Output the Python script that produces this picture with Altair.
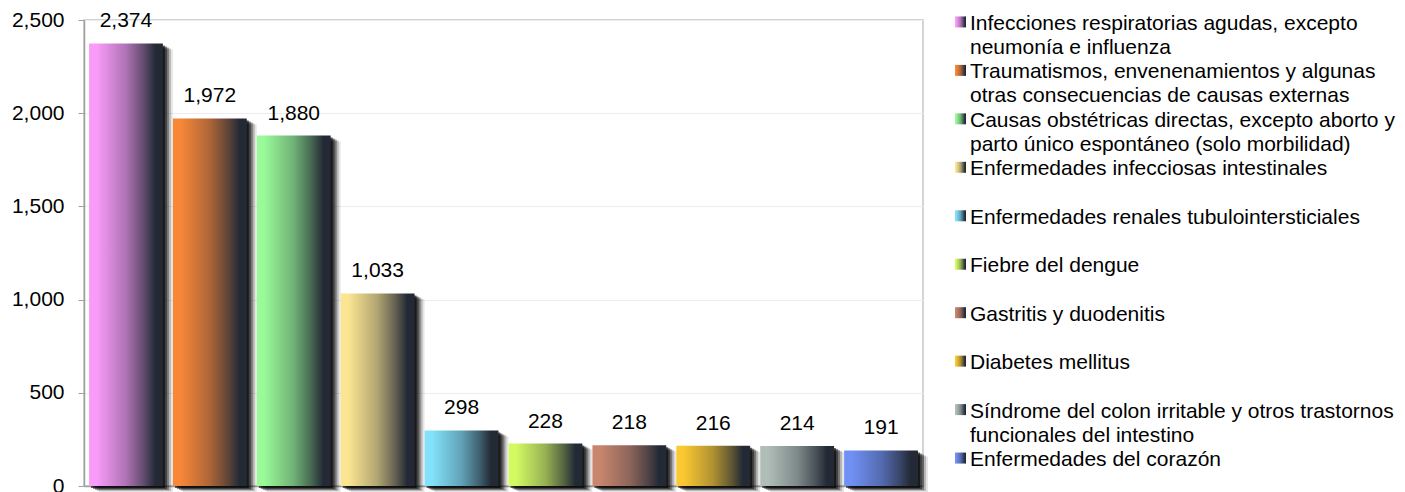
import altair as alt
import pandas as pd

categories = [
    "Infecciones respiratorias agudas, excepto\nneumonía e influenza",
    "Traumatismos, envenenamientos y algunas\notras consecuencias de causas externas",
    "Causas obstétricas directas, excepto aborto y\nparto único espontáneo (solo morbilidad)",
    "Enfermedades infecciosas intestinales",
    "Enfermedades renales tubulointersticiales",
    "Fiebre del dengue",
    "Gastritis y duodenitis",
    "Diabetes mellitus",
    "Síndrome del colon irritable y otros trastornos\nfuncionales del intestino",
    "Enfermedades del corazón",
]
values = [2374, 1972, 1880, 1033, 298, 228, 218, 216, 214, 191]
light_colors = ["#fa9bfa", "#f88738", "#9afa98", "#fce592", "#82e2fb",
                "#d4fa62", "#c8866e", "#fac830", "#b0beb8", "#7090f4"]
dark_color = "#232a36"
y_ticks = [0, 500, 1000, 1500, 2000, 2500]

FONT = "Arial, Liberation Sans, sans-serif"
FS = 21

df = pd.DataFrame({"cat": categories, "value": values})


def mix(c1, c2, t):
    a = [int(c1[i:i + 2], 16) for i in (1, 3, 5)]
    b = [int(c2[i:i + 2], 16) for i in (1, 3, 5)]
    return "#" + "".join(f"{round(x + (y - x) * t):02x}" for x, y in zip(a, b))


def grad(c):
    return alt.Gradient(
        gradient="linear", x1=0, x2=1, y1=0, y2=0,
        stops=[
            alt.GradientStop(color=c, offset=0),
            alt.GradientStop(color=c, offset=0.1),
            alt.GradientStop(color=mix(c, dark_color, 0.35), offset=0.5),
            alt.GradientStop(color=mix(c, dark_color, 0.72), offset=0.75),
            alt.GradientStop(color=dark_color, offset=0.9),
            alt.GradientStop(color=dark_color, offset=1),
        ],
    )


xenc = alt.X(
    "cat:N",
    sort=categories,
    scale=alt.Scale(domain=categories, paddingInner=0.12, paddingOuter=0.06),
    axis=alt.Axis(labels=False, ticks=False, title=None, grid=False,
                  domainColor="#a0a0a0", domainWidth=1.5),
)
yenc = alt.Y(
    "value:Q",
    scale=alt.Scale(domain=[0, 2500], nice=False),
    axis=alt.Axis(values=y_ticks, format=",.0f", title=None, tickSize=6,
                  labelPadding=14, labelFontSize=FS, labelFont=FONT,
                  labelColor="#000000", tickColor="#a0a0a0",
                  domainColor="#a0a0a0", domainWidth=1.5,
                  gridColor="#ececec", gridWidth=1),
)

base = alt.Chart(df)

layers = []
for dx, dy, op in [(2, 2, 0.6), (4, 3, 0.45), (6, 4, 0.35), (8, 5, 0.2), (10, 6, 0.1)]:
    layers.append(
        base.mark_bar(color="#000000", opacity=op, xOffset=dx, yOffset=dy)
        .encode(x=xenc, y=yenc)
    )
for cat, col in zip(categories, light_colors):
    layers.append(
        base.transform_filter(alt.FieldEqualPredicate(field="cat", equal=cat))
        .mark_bar(color=grad(col))
        .encode(x=xenc, y=yenc)
    )
layers.append(
    base.mark_text(dy=-16, baseline="alphabetic", fontSize=FS, font=FONT,
                   color="#000000")
    .encode(x=xenc, y=yenc, text=alt.Text("value:Q", format=","))
)

bars = alt.layer(*layers).properties(
    width=839, height=466,
    view=alt.ViewBackground(stroke="#d4d4d4", strokeWidth=2),
)

yl = alt.Y("cat:N", sort=categories,
           scale=alt.Scale(type="point", domain=categories, padding=0.04),
           axis=None)
lbase = alt.Chart(df)
leg_layers = []
for cat, col in zip(categories, light_colors):
    leg_layers.append(
        lbase.transform_filter(alt.FieldEqualPredicate(field="cat", equal=cat))
        .mark_square(size=121, color=grad(col), filled=True, opacity=1)
        .encode(x=alt.value(5.5), y=yl)
    )
leg_layers.append(
    lbase.mark_text(align="left", baseline="top", dy=-9, lineHeight=24,
                    lineBreak="\n", fontSize=FS, font=FONT, color="#000000")
    .encode(x=alt.value(15), y=yl, text="cat:N")
)
legend = alt.layer(*leg_layers).properties(
    width=430, height=440,
    view=alt.ViewBackground(stroke="transparent"),
)

chart = (
    alt.hconcat(bars, legend, spacing=32, bounds="flush")
    .properties(padding={"left": 2, "top": 0, "right": 0, "bottom": 0},
                background="#ffffff")
    .configure_view(stroke="transparent")
)

chart.save("out.html", embed_options={"renderer": "svg", "actions": False})
